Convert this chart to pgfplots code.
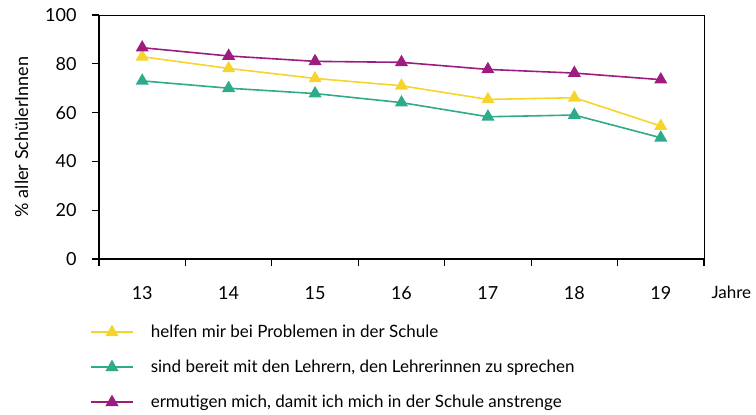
\documentclass[border=0pt]{standalone}
\usepackage{fontspec}
\setmainfont{Lato}
\usepackage{pgfplots}
\pgfplotsset{compat=1.18}
\definecolor{cyel}{HTML}{F6D42A}
\definecolor{cgrn}{HTML}{2FAA8A}
\definecolor{cpur}{HTML}{9C1C80}
\begin{document}
\begin{tikzpicture}
\useasboundingbox (-99pt,-156pt) rectangle (657pt,259pt);
\begin{axis}[
  scale only axis,
  width=605pt, height=244pt,
  at={(0,0)}, anchor=south west,
  xmin=12.5, xmax=19.5,
  ymin=0, ymax=100,
  xtick={13,...,19},
  major x tick style={draw=none},
  minor xtick={12.5,13.5,...,19.5},
  minor tick length=7pt,
  ytick={0,20,...,100},
  major tick length=7pt,
  tick align=outside,
  xtick pos=bottom, ytick pos=left,
  axis line style={line width=0.9pt},
  tick style={black, line width=1.2pt},
  x tick label style={yshift=-17pt},
  y tick label style={xshift=-12pt},
  tick label style={font=\fontsize{18}{20}\selectfont},
  /pgf/number format/assume math mode=true,
  ylabel={\% aller SchülerInnen},
  ylabel style={font=\fontsize{18}{20}\selectfont, yshift=10pt},
  legend style={at={(axis description cs:0,0)}, anchor=north west,
    xshift=-12pt, yshift=-63pt, draw=none, fill=none,
    font=\fontsize{17}{19}\selectfont, row sep=19pt,
    nodes={inner xsep=0pt, inner ysep=1pt},
    /tikz/every odd column/.append style={column sep=17pt}},
  legend cell align=left,
  legend image code/.code={\draw[mark repeat=2,mark phase=2,#1] plot coordinates {(0pt,0pt) (21pt,0pt) (42pt,0pt)};},
  every axis plot/.append style={line width=1.6pt, mark=triangle*, mark size=6pt},
  clip=false,
]
\addplot[color=cyel, mark options={fill=cyel, draw=cyel}] coordinates {
 (13,82.9) (14,78.1) (15,74.0) (16,71.0) (17,65.4) (18,66.1) (19,54.5)};
\addlegendentry{helfen mir bei Problemen in der Schule}
\addplot[color=cgrn, mark options={fill=cgrn, draw=cgrn}] coordinates {
 (13,73.0) (14,70.0) (15,67.8) (16,64.1) (17,58.3) (18,59.0) (19,49.7)};
\addlegendentry{sind bereit mit den Lehrern, den Lehrerinnen zu sprechen}
\addplot[color=cpur, mark options={fill=cpur, draw=cpur}] coordinates {
 (13,86.6) (14,83.2) (15,81.0) (16,80.6) (17,77.7) (18,76.2) (19,73.5)};
\addlegendentry{ermutigen mich, damit ich mich in der Schule anstrenge}
\draw[line width=2.2pt] (rel axis cs:0,1) -- (rel axis cs:0,0) -- (rel axis cs:1,0);
\node[anchor=west, font=\fontsize{17}{19}\selectfont] at ([xshift=4pt,yshift=-33pt]rel axis cs:1,0) {Jahre};
\end{axis}
\end{tikzpicture}
\end{document}
